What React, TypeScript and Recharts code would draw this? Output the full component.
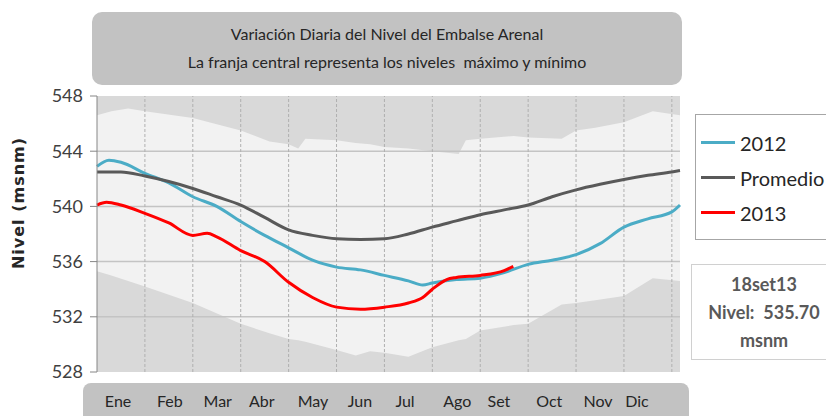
import {
  Area,
  CartesianGrid,
  ComposedChart,
  Legend,
  Line,
  ReferenceLine,
  XAxis,
  YAxis,
} from 'recharts'

// x is measured in months from 1 Jan (0 = start of Ene, 12 = end of Dic)
const monthLabels = ['Ene', 'Feb', 'Mar', 'Abr', 'May', 'Jun', 'Jul', 'Ago', 'Set', 'Oct', 'Nov', 'Dic']
// label positions as drawn in the source (not exactly month centres)
const monthTicks = [0.44, 1.52, 2.52, 3.44, 4.51, 5.49, 6.43, 7.52, 8.39, 9.44, 10.46, 11.27]
const monthEdges = [1, 2, 3, 4, 5, 6, 7, 8, 9, 10, 11, 12]
const levelTicks = [528, 532, 536, 540, 544, 548]
const seriesOrder = ['2012', 'Promedio', '2013']

const bandX = [0, 0.3, 0.65, 1, 2, 3, 3.6, 4, 4.2, 4.35, 5, 5.4, 5.7, 6, 6.5, 7, 7.55, 7.7, 8, 8.7, 9, 9.7, 10, 10.4, 11, 11.6, 12.17]
const bandMax = [546.6, 546.9, 547.1, 546.9, 546.4, 545.5, 544.7, 544.5, 544.2, 544.9, 544.8, 544.6, 544.5, 544.3, 544.2, 544.0, 543.8, 544.8, 544.9, 545.1, 545.0, 544.9, 545.5, 545.7, 546.1, 546.9, 546.6]
const bandMin = [535.3, 535.0, 534.6, 534.2, 533.0, 531.5, 530.8, 530.4, 530.3, 530.2, 529.6, 529.2, 529.5, 529.4, 529.1, 529.8, 530.3, 530.4, 531.0, 531.4, 531.5, 532.9, 533.0, 533.2, 533.5, 534.8, 534.6]

const promX = [0, 0.5, 1, 1.5, 2, 2.5, 3, 3.5, 4, 4.5, 5, 5.5, 6, 6.5, 7, 7.5, 8, 8.5, 9, 9.5, 10, 10.5, 11, 11.5, 12, 12.17]
const promVals = [542.5, 542.5, 542.2, 541.8, 541.3, 540.7, 540.1, 539.2, 538.3, 537.9, 537.65, 537.6, 537.65, 538.0, 538.5, 538.95, 539.4, 539.75, 540.1, 540.7, 541.2, 541.6, 541.95, 542.25, 542.5, 542.6]

const x2012 = [0, 0.25, 0.5, 1, 1.5, 2, 2.5, 3, 3.5, 4, 4.5, 5, 5.5, 6, 6.5, 6.8, 7, 7.5, 8, 8.5, 9, 9.5, 10, 10.5, 11, 11.5, 12, 12.17]
const vals2012 = [542.9, 543.35, 543.2, 542.4, 541.7, 540.7, 540.0, 538.9, 537.9, 537.0, 536.1, 535.6, 535.4, 535.0, 534.6, 534.3, 534.45, 534.7, 534.8, 535.2, 535.8, 536.1, 536.5, 537.3, 538.5, 539.1, 539.6, 540.1]

const x2013 = [0, 0.2, 0.5, 1, 1.5, 2, 2.3, 2.5, 3, 3.5, 4, 4.5, 5, 5.5, 6, 6.5, 6.8, 7, 7.3, 7.5, 8, 8.5, 8.69]
const vals2013 = [540.1, 540.3, 540.1, 539.5, 538.8, 537.9, 538.05, 537.8, 536.8, 536.0, 534.5, 533.4, 532.7, 532.55, 532.7, 533.0, 533.4, 534.0, 534.7, 534.85, 535.0, 535.35, 535.65]

const bandData = bandX.map((x, i) => ({ x, range: [bandMin[i], bandMax[i]] }))
const promData = promX.map((x, i) => ({ x, v: promVals[i] }))
const data2012 = x2012.map((x, i) => ({ x, v: vals2012[i] }))
const data2013 = x2013.map((x, i) => ({ x, v: vals2013[i] }))

const font = 'Lato, "Noto Sans", sans-serif'

type Item = { value: string; color: string }

function LegendBox({ payload }: { payload?: Item[] }) {
  const items = seriesOrder
    .map((name) => (payload ?? []).find((p) => p.value === name))
    .filter(Boolean) as Item[]
  return (
    <div
      style={{
        width: 140,
        height: 126,
        border: '1px solid #a6a6a6',
        boxSizing: 'border-box',
        paddingTop: 10,
        fontFamily: font,
        fontSize: 20,
        color: '#262626',
      }}
    >
      {items.map((p) => (
        <div key={p.value} style={{ display: 'flex', alignItems: 'center', height: 35 }}>
          <span style={{ width: 34, height: 3, background: p.color, marginLeft: 5, marginRight: 5 }} />
          <span>{p.value}</span>
        </div>
      ))}
    </div>
  )
}

export default function App() {
  return (
    <div style={{ position: 'absolute', left: 0, top: 0, width: 826, height: 416, overflow: 'hidden', background: '#fff' }}>
      <div
        style={{
          position: 'absolute',
          left: 92,
          top: 12,
          width: 590,
          height: 73,
          borderRadius: 10,
          background: '#c2c2c2',
          fontFamily: font,
          fontSize: 16,
          color: '#262626',
          textAlign: 'center',
          lineHeight: '28px',
          paddingTop: 8,
          boxSizing: 'border-box',
        }}
      >
        <div>Variación Diaria del Nivel del Embalse Arenal</div>
        <div>La franja central representa los niveles&nbsp; máximo y mínimo</div>
      </div>
      <div
        style={{
          position: 'absolute',
          left: 83,
          top: 383,
          width: 606,
          height: 44,
          borderRadius: 8,
          background: '#c2c2c2',
        }}
      />
      <div
        style={{
          position: 'absolute',
          left: 18,
          top: 203,
          transform: 'translate(-50%, -50%) rotate(-90deg)',
          whiteSpace: 'nowrap',
          fontFamily: 'DejaVu Sans, sans-serif',
          fontWeight: 'bold',
          fontSize: 16,
          letterSpacing: 1,
          color: '#262626',
        }}
      >
        Nivel (msnm)
      </div>
      <div
        style={{
          position: 'absolute',
          left: 691,
          top: 264,
          width: 150,
          height: 96,
          border: '1px solid #d0d0d0',
          boxSizing: 'border-box',
          fontFamily: font,
          fontWeight: 'bold',
          fontSize: 18,
          color: '#595959',
          lineHeight: '28px',
          paddingTop: 5,
          paddingLeft: 2,
        }}
      >
        <div style={{ width: 140, textAlign: 'center' }}>18set13</div>
        <div style={{ width: 140, textAlign: 'center', whiteSpace: 'pre' }}>Nivel:  535.70</div>
        <div style={{ width: 140, textAlign: 'center' }}>msnm</div>
      </div>
      <ComposedChart
        width={826}
        height={416}
        margin={{ top: 96, right: 146, bottom: 0, left: 0 }}
        style={{ position: 'absolute', left: 0, top: 0 }}
      >
        <CartesianGrid horizontal={false} vertical={false} fill="#d9d9d9" />
        <XAxis
          type="number"
          dataKey="x"
          domain={[0, 12.17]}
          ticks={monthTicks}
          tickFormatter={(v) => monthLabels[Math.floor(Number(v))]}
          interval={0}
          allowDuplicatedCategory={false}
          height={44}
          axisLine={false}
          tickLine={false}
          tickMargin={18}
          tick={{ fill: '#262626', fontSize: 16, fontFamily: font }}
        />
        <YAxis
          type="number"
          domain={[528, 548]}
          ticks={levelTicks}
          width={97}
          stroke="#868686"
          tickSize={7}
          tickMargin={7}
          tick={{ fill: '#404040', fontSize: 18, fontFamily: font }}
        />
        <Area
          data={bandData}
          dataKey="range"
          type="linear"
          fill="#f2f2f2"
          fillOpacity={1}
          stroke="none"
          legendType="none"
          isAnimationActive={false}
        />
        {levelTicks.slice(1, -1).map((y) => (
          <ReferenceLine key={`h${y}`} y={y} stroke="#c4c4c4" strokeWidth={1.5} />
        ))}
        {monthEdges.map((m) => (
          <ReferenceLine key={`v${m}`} x={m} stroke="#b0b0b0" strokeDasharray="3 2" />
        ))}
        <Line data={data2012} dataKey="v" name="2012" type="monotone" stroke="#4bacc6" strokeWidth={3} dot={false} isAnimationActive={false} />
        <Line data={promData} dataKey="v" name="Promedio" type="monotone" stroke="#595959" strokeWidth={3} dot={false} isAnimationActive={false} />
        <Line data={data2013} dataKey="v" name="2013" type="monotone" stroke="#ff0000" strokeWidth={3} dot={false} isAnimationActive={false} />
        <Legend
          layout="vertical"
          align="center"
          verticalAlign="middle"
          content={(props) => <LegendBox payload={props.payload as Item[]} />}
          wrapperStyle={{ left: 695, top: 114, width: 140 }}
        />
      </ComposedChart>
    </div>
  )
}
